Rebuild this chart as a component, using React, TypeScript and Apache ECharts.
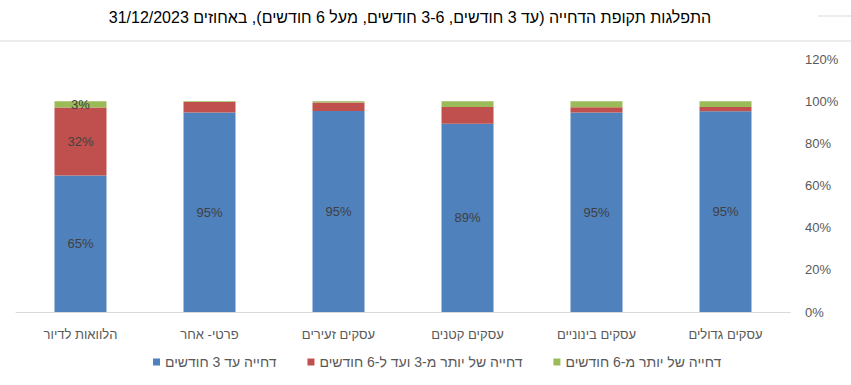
import React, { useEffect, useRef } from "react";
import * as echarts from "echarts";

const titleText = "התפלגות תקופת הדחייה (עד 3 חודשים, 3-6 חודשים, מעל 6 חודשים), באחוזים 31/12/2023";
const categories = ["עסקים גדולים", "עסקים בינוניים", "עסקים קטנים", "עסקים זעירים", "פרטי- אחר", "הלוואות לדיור"];
const seriesNames = ["דחייה עד 3 חודשים", "דחייה של יותר מ-3 ועד ל-6 חודשים", "דחייה של יותר מ-6 חודשים"];
const upTo3 = [95.2, 94.6, 89.3, 95.3, 94.6, 64.8];
const from3to6 = [2.0, 2.5, 7.9, 4.1, 5.0, 32.2];
const over6 = [2.8, 2.9, 2.8, 0.6, 0.4, 3.0];
const showUpTo3 = [true, true, true, true, true, true];
const showFrom3to6 = [false, false, false, false, false, true];
const showOver6 = [false, false, false, false, false, true];
const yTicks = { min: 0, max: 120, interval: 20 };

const colors = ["#4F81BD", "#C0504D", "#9BBB59"];
const FONT = "'Liberation Sans', Arial, sans-serif";

export default function App() {
  const ref = useRef<HTMLDivElement>(null);
  useEffect(() => {
    if (!ref.current) return;
    const chart = echarts.init(ref.current, undefined, { renderer: "svg" });
    const mk = (vals: number[], shows: boolean[]) =>
      vals.map((v, i) => ({ value: v, label: { show: shows[i] } }));
    const label = {
      show: true,
      position: "inside",
      color: "#404040",
      fontSize: 13,
      fontFamily: FONT,
      formatter: (p: any) => Math.round(p.value) + "%",
    };
    const allVals = [upTo3, from3to6, over6];
    const allShows = [showUpTo3, showFrom3to6, showOver6];
    chart.setOption({
      animation: false,
      backgroundColor: "#FFFFFF",
      textStyle: { fontFamily: FONT },
      grid: { left: 16, right: 61, top: 59, bottom: 73, containLabel: false },
      legend: {
        bottom: 11,
        left: 148,
        itemWidth: 7,
        itemHeight: 7,
        itemGap: 31,
        icon: "rect",
        textStyle: { color: "#595959", fontSize: 14, fontFamily: FONT },
        data: seriesNames,
      },
      xAxis: {
        type: "category",
        data: categories,
        inverse: true,
        axisLine: { lineStyle: { color: "#D9D9D9" } },
        axisTick: { show: false },
        axisLabel: { color: "#595959", fontSize: 13, fontFamily: FONT, margin: 16, interval: 0 },
      },
      yAxis: {
        type: "value",
        position: "right",
        min: yTicks.min,
        max: yTicks.max,
        interval: yTicks.interval,
        axisLine: { show: false },
        axisTick: { show: false },
        splitLine: { show: false },
        axisLabel: { color: "#595959", fontSize: 13, fontFamily: FONT, margin: 15, formatter: "{value}%" },
      },
      series: seriesNames.map((name, i) => ({
        name,
        type: "bar",
        stack: "total",
        barWidth: 52,
        itemStyle: { color: colors[i] },
        label,
        data: mk(allVals[i], allShows[i]),
      })),
      graphic: [
        {
          type: "text",
          x: 410,
          y: 17,
          style: {
            text: titleText,
            fill: "#000000",
            fontSize: 16,
            fontFamily: FONT,
            textAlign: "center",
            textVerticalAlign: "middle",
          },
        },
        { type: "line", shape: { x1: 0, y1: 41, x2: 851, y2: 41 }, style: { stroke: "#D9D9D9", lineWidth: 1 } },
        { type: "line", shape: { x1: 818, y1: 16, x2: 851, y2: 16 }, style: { stroke: "#D9D9D9", lineWidth: 1 } },
      ],
    });
    return () => chart.dispose();
  }, []);
  return (
    <div
      ref={ref}
      style={{ position: "absolute", left: 0, top: 0, width: 851, height: 385 }}
    />
  );
}
